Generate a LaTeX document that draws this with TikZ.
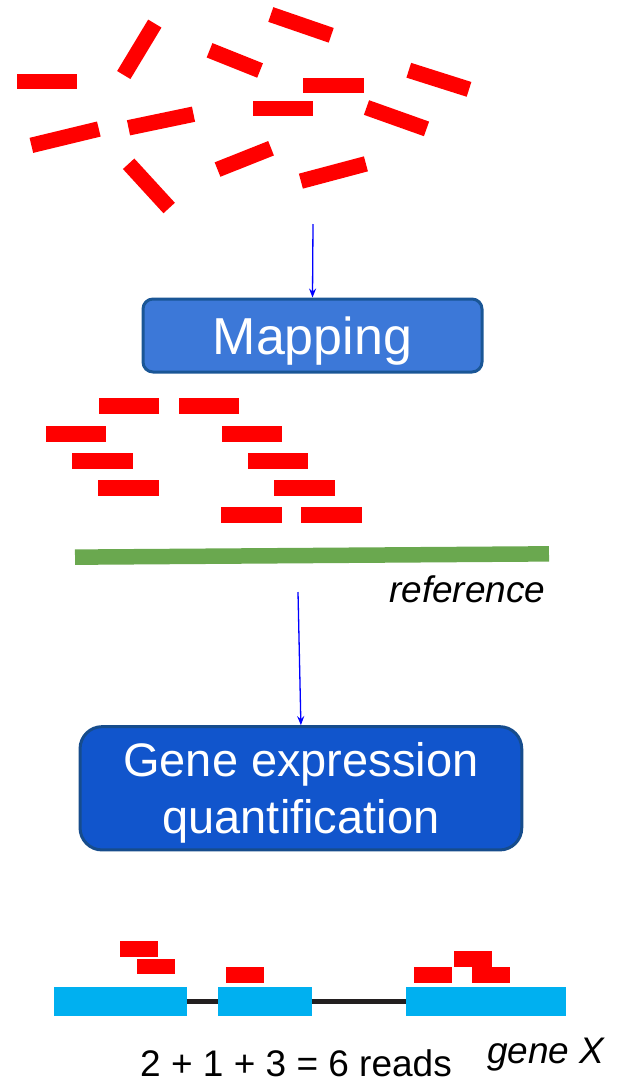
\documentclass[tikz,border=0pt]{standalone}
\usepackage{fontspec}
\setmainfont{Liberation Sans}
\usetikzlibrary{arrows.meta}
\definecolor{readred}{RGB}{255,0,0}
\definecolor{mapblue}{RGB}{60,120,216}
\definecolor{mapedge}{RGB}{26,86,150}
\definecolor{quantblue}{RGB}{17,85,204}
\definecolor{quantedge}{RGB}{22,76,140}
\definecolor{refgreen}{RGB}{106,168,79}
\definecolor{exoncyan}{RGB}{0,176,240}
\definecolor{introngray}{RGB}{35,31,32}

\begin{document}
\begin{tikzpicture}[x=1pt,y=-1pt,
  read/.style={fill=readred, inner sep=0, outer sep=0, minimum height=15.5pt},
  gread/.style={read, minimum width=38pt, minimum height=15.7pt},
  mread/.style={read, minimum width=60.5pt, minimum height=16pt},
  exon/.style={fill=exoncyan, inner sep=0, outer sep=0, minimum height=29pt},
  flow/.style={draw=blue, line width=1.3pt, -{Stealth[length=9pt,width=7pt,inset=3pt]}}]
  \useasboundingbox (0,0) rectangle (625,1082);

  % unmapped reads
  \node [read, minimum width=60.6pt] (t1) at (47,81.3) {};
  \node [read, minimum width=60.1pt, rotate=58.9] (t2) at (139.3,49.3) {};
  \node [read, minimum width=54.4pt, rotate=-21.8] (t3) at (234.8,60.4) {};
  \node [read, minimum width=63.9pt, rotate=-19] (t4) at (301,24.9) {};
  \node [read, minimum width=60.5pt] (t5) at (333.7,85.3) {};
  \node [read, minimum width=63.2pt, rotate=-17.6] (t6) at (438.9,79.8) {};
  \node [read, minimum width=60.6pt] (t7) at (283,108.3) {};
  \node [read, minimum width=63.7pt, rotate=-19.6] (t8) at (396.5,118.2) {};
  \node [read, minimum width=69.4pt, rotate=13.6] (t9) at (65.1,137.2) {};
  \node [read, minimum width=66.4pt, rotate=11.8] (t10) at (161,121) {};
  \node [read, minimum width=60pt, rotate=-47.5] (t11) at (148.9,185.9) {};
  \node [read, minimum width=57.6pt, rotate=21.7] (t12) at (244.3,158.9) {};
  \node [read, minimum width=67.3pt, rotate=14.9] (t13) at (333.4,172.5) {};

  \coordinate (s1) at (313,224);
  \node [draw=mapedge, line width=3pt, fill=mapblue, rounded corners=10pt,
    minimum width=339pt, minimum height=73pt, inner sep=0,
    text=white, text height=37.2pt, text depth=0pt,
    font=\fontsize{52}{62}\selectfont] (map) at (312.5,335.5) {Mapping};
  \draw [flow] (s1) -- (map.north);

  % mapped reads
  \node [mread] (m1) at (129.1,406.3) {};
  \node [mread] (m2) at (209.1,406.3) {};
  \node [mread] (m3) at (75.8,433.5) {};
  \node [mread] (m4) at (251.8,433.5) {};
  \node [mread] (m5) at (102.3,460.7) {};
  \node [mread] (m6) at (278.1,460.7) {};
  \node [mread] (m7) at (128.6,488.2) {};
  \node [mread] (m8) at (304.7,488.2) {};
  \node [mread] (m9) at (251.5,515.3) {};
  \node [mread] (m10) at (331.5,515.3) {};

  \node [fill=refgreen, inner sep=0, minimum width=474pt, minimum height=15.5pt,
    rotate=0.4] (ref) at (312,555.5) {};
  \node [anchor=base west, inner sep=0, font=\fontsize{37}{44}\selectfont\itshape]
    (reflabel) at (389,602) {reference};

  \coordinate (s2) at (298,592);
  \node [draw=quantedge, line width=3pt, fill=quantblue, rounded corners=22pt,
    minimum width=441.7pt, minimum height=123.3pt, inner sep=0,
    text=white, align=center, text height=90pt, text depth=0pt,
    font=\fontsize{47}{56.5}\selectfont] (quant) at (300.9,788.3)
    {Gene expression\\quantification};
  \draw [flow] (s2) -- (quant.north);

  % gene with exons
  \node [exon, minimum width=132.7pt] (e1) at (120.4,1001.2) {};
  \node [exon, minimum width=94pt] (e2) at (264.7,1001.2) {};
  \node [exon, minimum width=160.3pt] (e3) at (486.2,1001.2) {};
  \draw [introngray, line width=5pt] (e1.east) -- (e2.west);
  \draw [introngray, line width=5pt] (e2.east) -- (e3.west);

  \node [gread] (g1) at (139,949.2) {};
  \node [gread] (g2) at (155.7,966.5) {};
  \node [gread] (g3) at (245.2,975.2) {};
  \node [gread] (g4) at (432.5,975.2) {};
  \node [gread] (g5) at (473.3,959.2) {};
  \node [gread] (g6) at (490.7,975.2) {};

  \node [anchor=base west, inner sep=0, font=\fontsize{37}{44}\selectfont]
    (count) at (140,1076.5) {2 + 1 + 3 = 6 reads};
  \node [anchor=base west, inner sep=0, font=\fontsize{37}{44}\selectfont\itshape]
    (gene) at (487,1063) {gene X};
\end{tikzpicture}
\end{document}
